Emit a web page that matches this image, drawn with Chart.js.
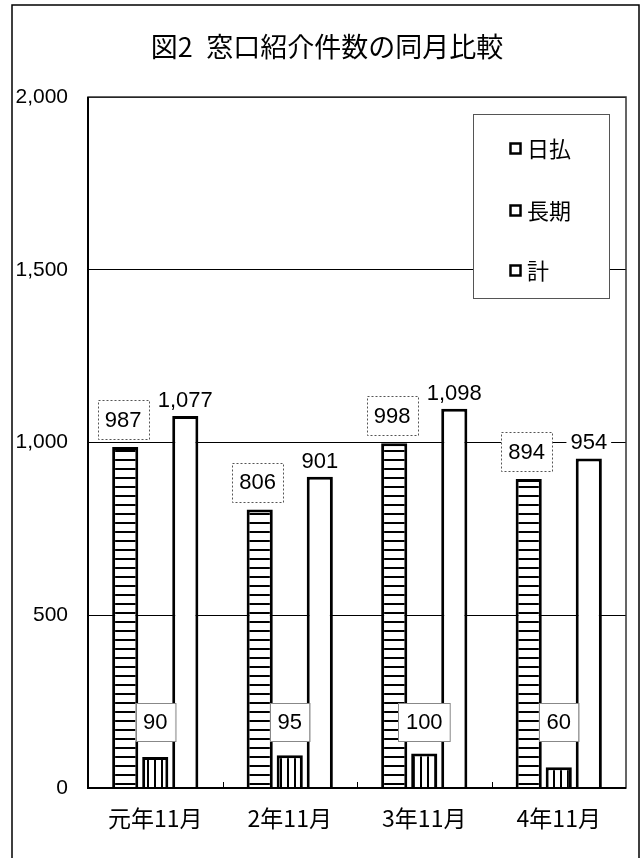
<!DOCTYPE html>
<html>
<head>
<meta charset="utf-8">
<script src="https://cdn.jsdelivr.net/npm/chart.js@4/dist/chart.umd.min.js"></script>
<style>
html,body{margin:0;padding:0;background:#fff;}
canvas{display:block;}
</style>
</head>
<body>
<canvas id="c" width="642" height="858"></canvas>
<script>
const titleText = "図2\u2002窓口紹介件数の同月比較";
const categories = ["元年11月", "2年11月", "3年11月", "4年11月"];
const seriesNames = ["日払", "長期", "計"];
const dailyValues = [987, 806, 998, 894];
const longTermValues = [90, 95, 100, 60];
const totalValues = [1077, 901, 1098, 954];
const yTicks = [0, 500, 1000, 1500, 2000];
const longLabelLevel = 190;

const NUMFONT = '"Liberation Sans", "Noto Sans CJK JP", sans-serif';
const JPFONT = '"Noto Sans CJK JP", "Liberation Sans", sans-serif';

function makePattern(kind) {
  const p = document.createElement('canvas');
  const ctx = p.getContext('2d');
  if (kind === 'h') {
    p.width = 4; p.height = 9;
    ctx.fillStyle = '#fff'; ctx.fillRect(0, 0, 4, 9);
    ctx.fillStyle = '#000'; ctx.fillRect(0, 0, 4, 2);
  } else {
    p.width = 7; p.height = 4;
    ctx.fillStyle = '#fff'; ctx.fillRect(0, 0, 7, 4);
    ctx.fillStyle = '#000'; ctx.fillRect(0, 0, 2, 4);
  }
  return document.getElementById('c').getContext('2d').createPattern(p, 'repeat');
}

const fmt = v => v.toLocaleString('en-US');

const decor = {
  id: 'decor',
  beforeDraw(chart) {
    const ctx = chart.ctx;
    ctx.save();
    ctx.fillStyle = '#fff';
    ctx.fillRect(0, 0, chart.width, chart.height);
    ctx.strokeStyle = '#000';
    ctx.lineWidth = 1.5;
    ctx.beginPath();
    ctx.moveTo(12, chart.height + 2);
    ctx.lineTo(12, 5);
    ctx.lineTo(639, 5);
    ctx.lineTo(639, chart.height + 2);
    ctx.stroke();
    ctx.fillStyle = '#000';
    ctx.font = '27px ' + JPFONT;
    ctx.textAlign = 'center';
    ctx.textBaseline = 'middle';
    ctx.fillText(titleText, 327, 47);
    ctx.restore();
  },
  afterDatasetsDraw(chart) {
    const ctx = chart.ctx;
    const ca = chart.chartArea;
    const xs = chart.scales.x, ys = chart.scales.y;
    ctx.save();
    ctx.strokeStyle = '#333';
    ctx.lineWidth = 1.5;
    ctx.strokeRect(ca.left, ca.top, ca.right - ca.left, ca.bottom - ca.top);
    ctx.strokeStyle = '#000';
    ctx.lineWidth = 2;
    ctx.beginPath();
    ctx.moveTo(ca.left, ca.top); ctx.lineTo(ca.left, ca.bottom); ctx.lineTo(ca.right, ca.bottom);
    ctx.stroke();
    ctx.lineWidth = 1;
    for (let i = 1; i < categories.length; i++) {
      const x = Math.round((xs.getPixelForValue(i - 1) + xs.getPixelForValue(i)) / 2) + 0.5;
      ctx.beginPath(); ctx.moveTo(x, ca.bottom); ctx.lineTo(x, ca.bottom - 6); ctx.stroke();
    }
    ctx.font = '22px ' + NUMFONT;
    ctx.textAlign = 'center';
    ctx.textBaseline = 'middle';
    chart.data.datasets.forEach((ds, di) => {
      const meta = chart.getDatasetMeta(di);
      meta.data.forEach((bar, i) => {
        const txt = fmt(ds.data[i]);
        const tw = ctx.measureText(txt).width;
        if (di === 0) {
          const w = 51, h = 39;
          const cx = bar.x - 2, bottom = bar.y - 8;
          ctx.fillStyle = '#fff';
          ctx.fillRect(cx - w / 2, bottom - h, w, h);
          ctx.setLineDash([2, 2]);
          ctx.strokeStyle = '#555';
          ctx.lineWidth = 1;
          ctx.strokeRect(Math.round(cx - w / 2) + 0.5, Math.round(bottom - h) + 0.5, w, h);
          ctx.setLineDash([]);
          ctx.fillStyle = '#000';
          ctx.fillText(txt, cx, bottom - h / 2 + 1);
        } else if (di === 1) {
          const w = tw + 15, h = 38;
          const cy = ys.getPixelForValue(longLabelLevel);
          ctx.fillStyle = '#fff';
          ctx.fillRect(bar.x - w / 2, cy - h / 2, w, h);
          ctx.strokeStyle = '#888';
          ctx.lineWidth = 1;
          ctx.strokeRect(Math.round(bar.x - w / 2) + 0.5, Math.round(cy - h / 2) + 0.5, w, h);
          ctx.fillStyle = '#000';
          ctx.fillText(txt, bar.x, cy + 1);
        } else {
          const cy = bar.y - 15;
          ctx.fillStyle = '#fff';
          ctx.fillRect(bar.x - tw / 2 - 4, cy - 12, tw + 8, 22);
          ctx.fillStyle = '#000';
          ctx.fillText(txt, bar.x, cy);
        }
      });
    });
    const lx = 473, ly = 114, lw = 136, lh = 184;
    ctx.fillStyle = '#fff';
    ctx.fillRect(lx, ly, lw, lh);
    ctx.strokeStyle = '#555';
    ctx.lineWidth = 1;
    ctx.strokeRect(lx + 0.5, ly + 0.5, lw, lh);
    const itemY = [148, 210, 270];
    ctx.font = '22px ' + JPFONT;
    ctx.textAlign = 'left';
    chart.data.datasets.forEach((ds, di) => {
      const y = itemY[di];
      ctx.fillStyle = '#fff';
      ctx.fillRect(510, y - 5, 11, 11);
      ctx.strokeStyle = '#000';
      ctx.lineWidth = 2.5;
      ctx.strokeRect(510.5, y - 4.5, 10, 10);
      ctx.fillStyle = '#000';
      ctx.fillText(ds.label, 527, y + 1);
    });
    ctx.restore();
  }
};

const chart = new Chart(document.getElementById('c'), {
  type: 'bar',
  data: {
    labels: categories,
    datasets: [
      { label: seriesNames[0], data: dailyValues, backgroundColor: makePattern('h'), borderColor: '#000', borderWidth: 3 },
      { label: seriesNames[1], data: longTermValues, backgroundColor: makePattern('v'), borderColor: '#000', borderWidth: 3 },
      { label: seriesNames[2], data: totalValues, backgroundColor: '#fff', borderColor: '#000', borderWidth: 3 }
    ]
  },
  options: {
    responsive: false,
    animation: false,
    devicePixelRatio: 1,
    layout: { padding: { left: 12, right: 16, top: 97, bottom: 0 } },
    datasets: { bar: { categoryPercentage: 0.67, barPercentage: 0.87 } },
    plugins: { legend: { display: false }, title: { display: false }, tooltip: { enabled: false } },
    scales: {
      x: {
        grid: { display: false, drawTicks: false },
        border: { display: false },
        ticks: { color: '#000', font: { family: JPFONT, size: 23 }, padding: 16 },
        afterFit(s) { s.height = 70; }
      },
      y: {
        min: yTicks[0], max: yTicks[yTicks.length - 1],
        afterBuildTicks(s) { s.ticks = yTicks.map(v => ({ value: v })); },
        grid: { color: '#000', lineWidth: 1, drawTicks: false },
        border: { display: false },
        ticks: { color: '#000', font: { family: NUMFONT, size: 21 }, padding: 20, callback: v => fmt(v) },
        afterFit(s) { s.width = 76; }
      }
    }
  },
  plugins: [decor]
});
</script>
</body>
</html>
